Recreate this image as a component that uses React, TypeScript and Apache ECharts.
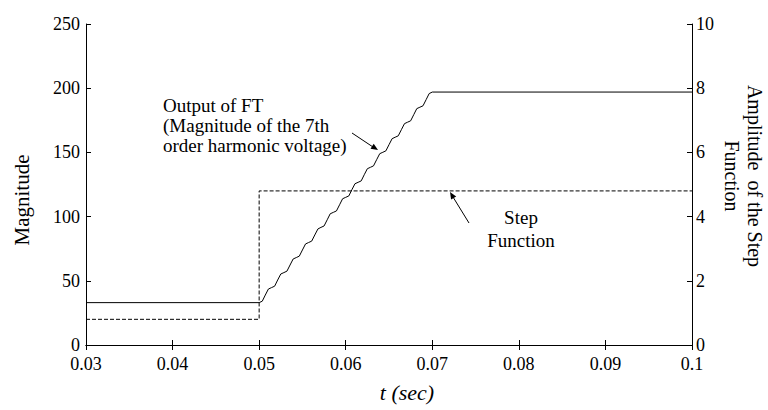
import React, { useEffect, useRef } from "react";
import * as echarts from "echarts";

const xTicks = [0.03, 0.04, 0.05, 0.06, 0.07, 0.08, 0.09, 0.1];
const leftTicks = [0, 50, 100, 150, 200, 250];
const rightTicks = [0, 2, 4, 6, 8, 10];

// Output of FT (magnitude of the 7th order harmonic voltage)
const ftTime = [
  0.03,
  0.05, 0.05036, 0.05071, 0.05107,
  0.05143, 0.05179, 0.05214, 0.0525,
  0.05286, 0.05321, 0.05357, 0.05393,
  0.05429, 0.05464, 0.055, 0.05536,
  0.05571, 0.05607, 0.05643, 0.05679,
  0.05714, 0.0575, 0.05786, 0.05821,
  0.05857, 0.05893, 0.05929, 0.05964,
  0.06, 0.06036, 0.06071, 0.06107,
  0.06143, 0.06179, 0.06214, 0.0625,
  0.06286, 0.06321, 0.06357, 0.06393,
  0.06429, 0.06464, 0.065, 0.06536,
  0.06571, 0.06607, 0.06643, 0.06679,
  0.06714, 0.0675, 0.06786, 0.06821,
  0.06857, 0.06893, 0.06929, 0.06964,
  0.07, 0.1,
];
const ftMag = [
  33,
  33.0, 34.1, 38.9, 43.6,
  44.7, 45.8, 50.6, 55.3,
  56.4, 57.5, 62.3, 67.0,
  68.1, 69.2, 74.0, 78.7,
  79.8, 80.9, 85.7, 90.4,
  91.6, 92.7, 97.5, 102.2,
  103.3, 104.4, 109.2, 113.9,
  115.0, 116.1, 120.9, 125.6,
  126.7, 127.8, 132.6, 137.3,
  138.4, 139.5, 144.3, 149.0,
  150.1, 151.2, 156.0, 160.7,
  161.8, 162.9, 167.7, 172.4,
  173.5, 174.6, 179.4, 184.1,
  185.2, 186.3, 191.1, 195.8,
  197.0, 197.0,
];

// Step function (right axis)
const stepTime = [0.03, 0.05, 0.05, 0.1];
const stepAmp = [0.8, 0.8, 4.8, 4.8];

const FONT = "Liberation Serif";

export default function App() {
  const ref = useRef<HTMLDivElement>(null);
  useEffect(() => {
    if (!ref.current) return;
    const chart = echarts.init(ref.current, undefined, { renderer: "svg" });
    const axisLine = { show: true, lineStyle: { color: "#000", width: 1 } };
    const tickStyle = { show: true, inside: true, length: 5, lineStyle: { color: "#000", width: 1 } };
    const label = { color: "#000", fontFamily: FONT, fontSize: 18 };
    chart.setOption({
      animation: false,
      backgroundColor: "#fff",
      grid: { left: 86, right: 76, top: 24, bottom: 65, containLabel: false },
      xAxis: [
        {
          type: "value",
          min: xTicks[0],
          max: xTicks[xTicks.length - 1],
          interval: 0.01,
          axisLine,
          axisTick: tickStyle,
          splitLine: { show: false },
          axisLabel: {
            ...label,
            margin: 10,
            formatter: (v: number) => {
              const r = Math.round(v * 100) / 100;
              return r === 0.1 ? "0.1" : r.toFixed(2);
            },
          },
        },
        {
          type: "value",
          position: "top",
          min: xTicks[0],
          max: xTicks[xTicks.length - 1],
          interval: 0.01,
          axisLine,
          axisTick: tickStyle,
          splitLine: { show: false },
          axisLabel: { show: false },
        },
      ],
      yAxis: [
        {
          type: "value",
          min: leftTicks[0],
          max: leftTicks[leftTicks.length - 1],
          interval: 50,
          axisLine,
          axisTick: tickStyle,
          splitLine: { show: false },
          axisLabel: { ...label, margin: 6 },
        },
        {
          type: "value",
          position: "right",
          min: rightTicks[0],
          max: rightTicks[rightTicks.length - 1],
          interval: 2,
          axisLine,
          axisTick: tickStyle,
          splitLine: { show: false },
          axisLabel: { ...label, margin: 4 },
        },
      ],
      series: [
        {
          type: "line",
          data: ftTime.map((t, i) => [t, ftMag[i]]),
          xAxisIndex: 0,
          yAxisIndex: 0,
          showSymbol: false,
          symbol: "none",
          lineStyle: { color: "#000", width: 1 },
        },
        {
          type: "line",
          data: stepTime.map((t, i) => [t, stepAmp[i]]),
          xAxisIndex: 0,
          yAxisIndex: 1,
          showSymbol: false,
          symbol: "none",
          lineStyle: { color: "#000", width: 1, type: [4, 2] },
        },
      ],
      graphic: [
        {
          type: "text",
          x: 22,
          y: 200,
          rotation: Math.PI / 2,
          style: { text: "Magnitude", fontSize: 21, fontFamily: FONT, fill: "#000", align: "center", verticalAlign: "middle" },
        },
        {
          type: "text",
          x: 407,
          y: 392,
          style: { text: "t (sec)", fontSize: 22, fontStyle: "italic", fontFamily: FONT, fill: "#000", align: "center", verticalAlign: "middle" },
        },
        {
          type: "text",
          x: 743,
          y: 176,
          rotation: -Math.PI / 2,
          style: {
            text: "Amplitude  of the Step\nFunction",
            fontSize: 20,
            lineHeight: 23,
            fontFamily: FONT,
            fill: "#000",
            align: "center",
            verticalAlign: "middle",
          },
        },
        {
          type: "text",
          x: 163,
          y: 95,
          style: {
            text: "Output of FT\n(Magnitude of the 7th\norder harmonic voltage)",
            fontSize: 19,
            lineHeight: 20,
            fontFamily: FONT,
            fill: "#000",
            align: "left",
            verticalAlign: "top",
          },
        },
        {
          type: "text",
          x: 521,
          y: 206,
          style: {
            text: "Step\nFunction",
            fontSize: 19,
            lineHeight: 23,
            fontFamily: FONT,
            fill: "#000",
            align: "center",
            verticalAlign: "top",
          },
        },
        {
          type: "line",
          shape: { x1: 352, y1: 133, x2: 373, y2: 147 },
          style: { stroke: "#000", lineWidth: 1 },
        },
        {
          type: "polygon",
          shape: { points: [[378, 150], [370.5, 148.7], [373.7, 143.7]] },
          style: { fill: "#000" },
        },
        {
          type: "line",
          shape: { x1: 469, y1: 223, x2: 453, y2: 197 },
          style: { stroke: "#000", lineWidth: 1 },
        },
        {
          type: "polygon",
          shape: { points: [[450, 192], [456.2, 196.4], [451.1, 199.5]] },
          style: { fill: "#000" },
        },
      ],
    });
    return () => chart.dispose();
  }, []);
  return (
    <div
      ref={ref}
      style={{ position: "absolute", left: 0, top: 0, width: 768, height: 410, background: "#fff" }}
    />
  );
}
